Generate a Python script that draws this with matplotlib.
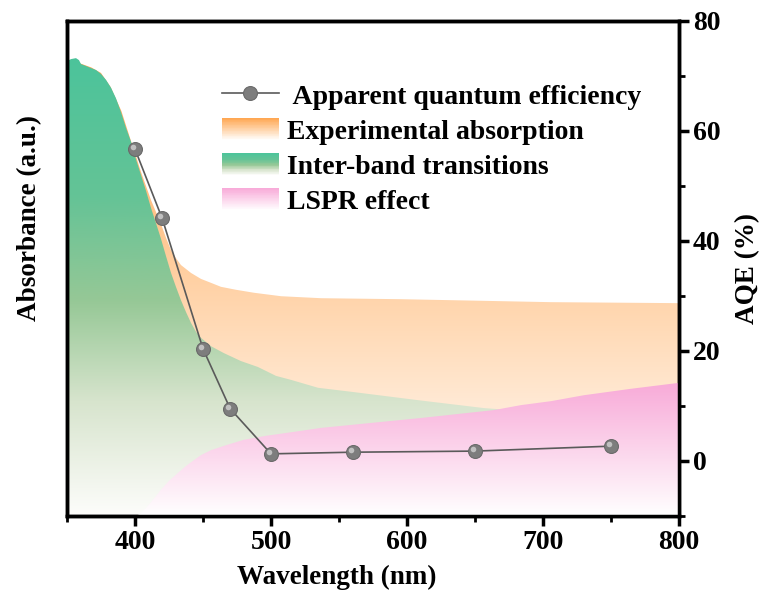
import numpy as np
import matplotlib
matplotlib.use('Agg')
import matplotlib.pyplot as plt
from matplotlib.colors import LinearSegmentedColormap
from matplotlib.legend_handler import HandlerBase
from matplotlib.patches import Rectangle, Patch
from matplotlib.ticker import MultipleLocator
from matplotlib.transforms import ScaledTranslation

plt.rcParams['font.family'] = ['Liberation Serif', 'DejaVu Serif']
plt.rcParams['font.weight'] = 'bold'

# ---------------- data ----------------
# Inter-band transitions (absorbance, a.u.)
green_x = [350.0, 352.9, 356.6, 358.8, 360.3, 364.0, 367.6, 371.3, 375.0, 378.7, 382.4,
           386.0, 389.7, 393.4, 397.1, 399.3, 404.4, 408.1, 411.8, 415.4, 419.1, 422.8,
           426.5, 430.1, 433.8, 437.5, 441.2, 444.9, 448.5, 455.9, 465.4, 477.9, 490.4,
           503.7, 514.7, 534.6, 558.8, 608.1, 656.6, 705.9, 757.4, 800.0]
green_y = [0.919, 0.923, 0.925, 0.921, 0.913, 0.909, 0.905, 0.901, 0.893, 0.881, 0.865,
           0.844, 0.816, 0.784, 0.756, 0.733, 0.689, 0.657, 0.622, 0.592, 0.560, 0.525,
           0.491, 0.463, 0.436, 0.412, 0.390, 0.372, 0.360, 0.343, 0.329, 0.313, 0.301,
           0.283, 0.275, 0.259, 0.251, 0.234, 0.218, 0.208, 0.198, 0.190]

# Experimental absorption (absorbance, a.u.)
orange_x = [350.0, 360.0, 368.0, 375.0, 382.0, 390.0, 397.0, 399.3, 404.4, 411.8, 419.1,
            422.8, 426.5, 430.1, 433.8, 441.2, 448.5, 455.9, 463.2, 474.3, 487.5, 507.4,
            536.8, 595.6, 632.4, 705.9, 800.0]
orange_y = [0.920, 0.914, 0.906, 0.895, 0.867, 0.818, 0.758, 0.739, 0.695, 0.638, 0.590,
            0.562, 0.537, 0.521, 0.507, 0.491, 0.479, 0.471, 0.463, 0.457, 0.451, 0.444,
            0.440, 0.438, 0.436, 0.432, 0.430]

# LSPR effect (absorbance, a.u.)
pink_x = [400.7, 404.4, 408.1, 411.8, 415.4, 419.1, 425.0, 431.6, 437.5, 443.4, 448.5,
          455.9, 466.9, 480.1, 496.3, 516.9, 536.8, 558.8, 610.3, 664.0, 683.8, 705.9,
          730.1, 764.7, 800.0]
pink_y = [0.000, 0.006, 0.016, 0.028, 0.040, 0.053, 0.071, 0.087, 0.101, 0.113, 0.123,
          0.133, 0.143, 0.154, 0.162, 0.170, 0.178, 0.184, 0.198, 0.214, 0.224, 0.232,
          0.244, 0.257, 0.269]

# Apparent quantum efficiency (%)
aqe_x = [400, 420, 450, 470, 500, 560, 650, 750]
aqe_y = [56.7, 44.1, 20.4, 9.5, 1.3, 1.6, 1.8, 2.7]

x_ticks = [400, 500, 600, 700, 800]
aqe_ticks = [0, 20, 40, 60, 80]

labels = [' Apparent quantum efficiency', 'Experimental absorption',
          'Inter-band transitions', 'LSPR effect']

# ---------------- colormaps ----------------
cm_green = LinearSegmentedColormap.from_list('g', [
    (0.0, (253/255, 253/255, 251/255)),
    (0.25, (215/255, 228/255, 205/255)),
    (0.47, (150/255, 200/255, 150/255)),
    (0.70, (100/255, 195/255, 150/255)),
    (1.0, (76/255, 196/255, 155/255))])
cm_orange = LinearSegmentedColormap.from_list('o', [
    (0.0, (1, 1, 1)), (1.0, (255/255, 166/255, 80/255))])
cm_pink = LinearSegmentedColormap.from_list('p', [
    (0.0, (1, 1, 1)), (1.0, (248/255, 170/255, 216/255))])

fig = plt.figure(figsize=(7.64, 6.06), dpi=100)
ax = fig.add_axes([67/764, 1 - 516/606, 612/764, 495/606])


def grad_fill(ax, x, y, cmap, zorder):
    x = np.asarray(x, float)
    y = np.asarray(y, float)
    poly = ax.fill_between(x, 0, y, facecolor='none', edgecolor='none', lw=0)
    path = poly.get_paths()[0]
    grad = np.linspace(0, 1, 256).reshape(-1, 1)
    im = ax.imshow(grad, cmap=cmap, origin='lower', aspect='auto',
                   extent=[x.min(), x.max(), 0, y.max()], zorder=zorder,
                   interpolation='bicubic')
    im.set_clip_path(path, transform=ax.transData)
    return im


grad_fill(ax, orange_x, orange_y, cm_orange, 1)
grad_fill(ax, green_x, green_y, cm_green, 2)
grad_fill(ax, pink_x, pink_y, cm_pink, 3)

ax.set_xlim(350, 800)
ax.set_ylim(0, 1)
ax.set_xticks(x_ticks)
ax.xaxis.set_minor_locator(MultipleLocator(50))
ax.tick_params(axis='x', which='major', direction='out', length=7, width=2.5,
               labelsize=20, pad=3, top=False)
ax.tick_params(axis='x', which='minor', direction='out', length=4, width=2, top=False)
ax.set_xlabel('Wavelength (nm)', fontsize=19.5, fontweight='bold')
ax.xaxis.set_label_coords(0.441, -0.099)
ax.set_ylabel('Absorbance (a.u.)', fontsize=19.5, fontweight='bold')
ax.yaxis.set_label_coords(-0.041, 0.602)

ax2 = ax.twinx()
ax2.set_ylim(-10, 80)
ax2.set_yticks(aqe_ticks)
ax2.yaxis.set_minor_locator(MultipleLocator(10))
ax2.tick_params(axis='y', which='major', direction='out', length=7, width=2.5,
                labelsize=20, pad=3)
ax2.tick_params(axis='y', which='minor', direction='out', length=4, width=2)
ax2.set_ylabel('AQE (%)', fontsize=19.5, fontweight='bold')
ax2.yaxis.set_label_coords(1.092, 0.5)

# no ticks on the absorbance axis
ax.set_yticks([])
ax.yaxis.set_minor_locator(matplotlib.ticker.NullLocator())
ax.tick_params(axis='y', which='both', left=False, right=False,
               labelleft=False, labelright=False)

for a in (ax, ax2):
    for s in a.spines.values():
        s.set_linewidth(2.5)

line, = ax2.plot(aqe_x, aqe_y, '-', color='#5a5a5a', lw=1.2, marker='o', ms=10,
                 mfc='#7d7d7d', mec='#6a6a6a', mew=0.8, zorder=5)
hl = ax2.transData + ScaledTranslation(-1.5/72, 1.5/72, fig.dpi_scale_trans)
ax2.plot(aqe_x, aqe_y, 'o', ms=4, color='#c8c8c8', mec='none', alpha=0.9,
         transform=hl, zorder=6)


class GradHandler(HandlerBase):
    def __init__(self, cmap, n=30):
        super().__init__()
        self.cmap = cmap
        self.n = n

    def create_artists(self, legend, orig_handle, xdescent, ydescent, width,
                       height, fontsize, trans):
        arts = []
        for i in range(self.n):
            y0 = -ydescent + height * i / self.n
            c = self.cmap((i + 0.5) / self.n)
            r = Rectangle((-xdescent, y0), width, height / self.n * 1.1, fc=c,
                          ec='none', transform=trans)
            arts.append(r)
        return arts


p_or = Patch()
p_gr = Patch()
p_pk = Patch()
leg = ax2.legend([line, p_or, p_gr, p_pk], labels,
                 handler_map={p_or: GradHandler(cm_orange), p_gr: GradHandler(cm_green),
                              p_pk: GradHandler(cm_pink)},
                 loc='upper left', bbox_to_anchor=(222/764, 1 - 83/606),
                 bbox_transform=fig.transFigure, frameon=False,
                 prop={'size': 20, 'weight': 'bold'},
                 handlelength=2.05, handleheight=0.85, handletextpad=0.3,
                 labelspacing=0.3, borderpad=0, borderaxespad=0, numpoints=1)

fig.savefig('out.png', dpi=100)
